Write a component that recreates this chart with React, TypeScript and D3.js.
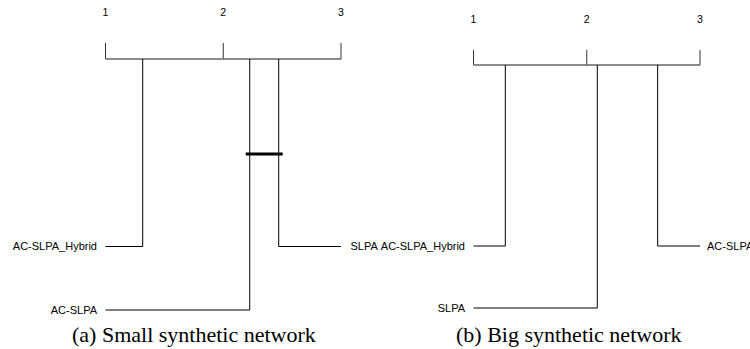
import React from "react";
import * as d3 from "d3";

// Data
const rankTicks = [1, 2, 3];
const methodsA = ["AC-SLPA_Hybrid", "AC-SLPA", "SLPA"];
const ranksA = [1.316, 2.225, 2.471];
const cliquesA = [[2.225, 2.471]];
const methodsB = ["AC-SLPA_Hybrid", "SLPA", "AC-SLPA"];
const ranksB = [1.281, 2.093, 2.626];
const cliquesB: number[][] = [];
const captionA = "(a) Small synthetic network";
const captionB = "(b) Big synthetic network";

type PanelProps = {
  methods: string[];
  ranks: number[];
  cliques: number[][];
  x0: number;
  x1: number;
  labelY: number;
  tickTop: number;
  axisY: number;
  rowYs: [number, number];
  cdY: number;
  caption: string;
  captionX: number;
  leftGap: number;
  rightGap: number;
};

const Panel = (p: PanelProps) => {
  const x = d3.scaleLinear().domain([1, 3]).range([p.x0, p.x1]);
  const row = d3.scaleLinear().domain([0, 1]).range(p.rowYs);
  const items = p.methods
    .map((m, i) => ({ m, r: p.ranks[i] }))
    .sort((a, b) => a.r - b.r);
  const nLeft = Math.ceil(items.length / 2);
  const left = items.slice(0, nLeft);
  const right = items.slice(nLeft).reverse();
  const font = "'Liberation Sans', Arial, sans-serif";
  return (
    <g>
      {rankTicks.map((t) => (
        <g key={t}>
          <text x={x(t)} y={p.labelY} textAnchor="middle" fontSize={10.5} fontFamily={font} fill="#000">
            {t}
          </text>
          <line x1={x(t)} x2={x(t)} y1={p.tickTop} y2={p.axisY} stroke="#333" strokeWidth={1} />
        </g>
      ))}
      <line x1={x(1)} x2={x(3)} y1={p.axisY} y2={p.axisY} stroke="#666" strokeWidth={1.3} />
      {left.map((d, i) => (
        <g key={d.m}>
          <path
            d={`M${x(d.r)},${p.axisY}V${row(i)}H${x(1)}`}
            fill="none"
            stroke="#000"
            strokeWidth={1}
          />
          <text x={x(1) - p.leftGap} y={row(i) + 3.9} textAnchor="end" fontSize={11} fontFamily={font} fill="#000">
            {d.m}
          </text>
        </g>
      ))}
      {right.map((d, i) => (
        <g key={d.m}>
          <path
            d={`M${x(d.r)},${p.axisY}V${row(i)}H${x(3)}`}
            fill="none"
            stroke="#000"
            strokeWidth={1}
          />
          <text x={x(3) + p.rightGap} y={row(i) + 3.9} textAnchor="start" fontSize={11} fontFamily={font} fill="#000">
            {d.m}
          </text>
        </g>
      ))}
      {p.cliques.map((c, i) => (
        <line
          key={i}
          x1={x(c[0]) - 4}
          x2={x(c[1]) + 4}
          y1={p.cdY}
          y2={p.cdY}
          stroke="#000"
          strokeWidth={3}
        />
      ))}
      <text x={p.captionX} y={342} fontSize={22} fontFamily="'Liberation Serif', 'Times New Roman', serif" fill="#000">
        {p.caption}
      </text>
    </g>
  );
};

export default function App() {
  return (
    <svg
      width={750}
      height={349}
      style={{ position: "absolute", left: 0, top: 0, background: "#fff" }}
    >
      <rect width={750} height={349} fill="#fff" />
      <Panel
        methods={methodsA}
        ranks={ranksA}
        cliques={cliquesA}
        x0={105.5}
        x1={341}
        labelY={16}
        tickTop={43}
        axisY={59}
        rowYs={[246.5, 310]}
        cdY={154}
        caption={captionA}
        captionX={72}
        leftGap={8.5}
        rightGap={9.5}
      />
      <Panel
        methods={methodsB}
        ranks={ranksB}
        cliques={cliquesB}
        x0={473.5}
        x1={700}
        labelY={23}
        tickTop={50}
        axisY={65}
        rowYs={[246, 308]}
        cdY={154}
        caption={captionB}
        captionX={456}
        leftGap={8.5}
        rightGap={7}
      />
    </svg>
  );
}
